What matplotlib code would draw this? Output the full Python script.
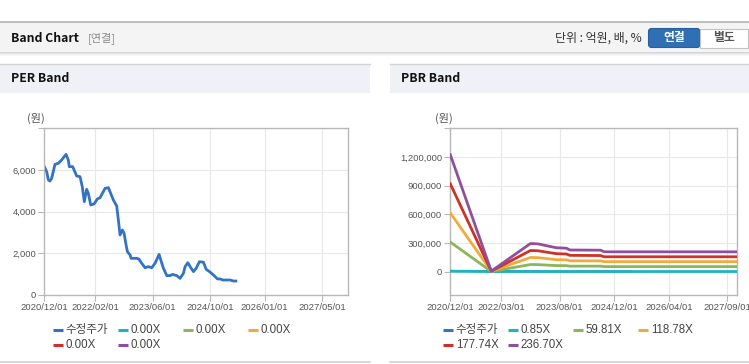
import pandas as pd
import matplotlib
matplotlib.use('Agg')
import matplotlib.pyplot as plt
import matplotlib.dates as mdates
from matplotlib.patches import Rectangle, FancyBboxPatch
from matplotlib.ticker import FuncFormatter

plt.rcParams['font.family'] = ['Liberation Sans', 'Noto Sans CJK KR', 'DejaVu Sans']

# adjusted share price (수정주가)
price_dates = ['2020-12-01', '2020-12-21', '2021-01-04', '2021-01-18', '2021-02-01', '2021-03-01',
               '2021-03-29', '2021-04-26', '2021-06-02', '2021-06-21', '2021-06-30', '2021-07-28',
               '2021-08-31', '2021-09-28', '2021-10-17', '2021-11-03', '2021-11-23', '2021-12-07',
               '2021-12-27', '2022-01-24', '2022-02-21', '2022-03-16', '2022-04-27', '2022-05-25',
               '2022-06-13', '2022-07-06', '2022-08-03', '2022-08-17', '2022-08-31', '2022-09-20',
               '2022-10-04', '2022-10-21', '2022-11-01', '2022-11-24', '2022-12-02', '2023-01-19',
               '2023-02-05', '2023-03-02', '2023-03-30', '2023-04-27', '2023-05-25', '2023-06-22',
               '2023-07-26', '2023-08-18', '2023-09-01', '2023-09-29', '2023-10-27', '2023-11-16',
               '2023-12-22', '2024-01-19', '2024-02-16', '2024-03-01', '2024-03-24', '2024-04-18',
               '2024-05-11', '2024-06-02', '2024-06-30', '2024-08-03', '2024-08-26', '2024-09-23',
               '2024-10-26', '2024-11-29', '2024-12-22', '2025-01-13', '2025-03-16', '2025-04-13',
               '2025-05-03']
price = [6160, 5920, 5520, 5470, 5600, 6270, 6320, 6480, 6750, 6480, 6160, 6160, 5710, 5680,
         5200, 4480, 5070, 4880, 4320, 4370, 4610, 4670, 5120, 5150, 4880, 4560, 4270, 3600,
         2880, 3120, 2960, 2400, 2080, 1920, 1760, 1760, 1730, 1520, 1310, 1360, 1310, 1520,
         1950, 1520, 1280, 930, 930, 990, 930, 800, 1040, 1360, 1550, 1310, 1120, 1280, 1600,
         1570, 1230, 1120, 960, 770, 770, 720, 720, 670, 670]

# PER band: all multiples are 0.00X (no line drawn)
per_labels = ['0.00X', '0.00X', '0.00X', '0.00X', '0.00X']

# PBR band lines
pbr_dates = ['2020-12-01', '2021-12-01', '2022-11-15', '2023-01-20', '2023-07-01',
             '2023-10-01', '2023-11-01', '2024-08-01', '2024-09-01', '2027-11-30']
pbr_labels = ['0.85X', '59.81X', '118.78X', '177.74X', '236.70X']
pbr_085 = [4400, 20, 1060, 1040, 900, 880, 810, 800, 740, 740]
pbr_5981 = [309000, 1300, 74000, 73000, 63000, 62000, 57000, 57000, 52000, 52000]
pbr_11878 = [614000, 2500, 148000, 146000, 125000, 123000, 113000, 112000, 104000, 104000]
pbr_17774 = [919000, 3800, 221000, 218000, 188000, 184000, 170000, 168000, 155000, 155000]
pbr_23670 = [1224000, 5000, 294000, 290000, 250000, 245000, 226000, 224000, 207000, 207000]

price_color = '#3273c6'
band_colors = ['#1fb3c0', '#8cb65a', '#f2aa3c', '#cf3129', '#904f9c']

per_ticks = ['2020-12-01', '2022-02-01', '2023-06-01', '2024-10-01', '2026-01-01', '2027-05-01']
pbr_ticks = ['2020-12-01', '2022-03-01', '2023-08-01', '2024-12-01', '2026-04-01', '2027-09-01']

W, H = 749, 364
fig = plt.figure(figsize=(W / 100, H / 100), dpi=100)

# background / page decoration in pixel coordinates
bg = fig.add_axes([0, 0, 1, 1], zorder=0)
bg.set_xlim(0, W)
bg.set_ylim(H, 0)
bg.axis('off')

bg.add_patch(Rectangle((0, 22), W, 30, facecolor='#f4f4f4', edgecolor='none'))
bg.plot([0, W], [22, 22], color='#b4b4b4', lw=1.2)
for i, a in enumerate([0.35, 0.22, 0.12, 0.05]):
    bg.add_patch(Rectangle((0, 52 + i), W, 1, facecolor='#888888', alpha=a, edgecolor='none'))

bg.text(11, 38, 'Band Chart', fontsize=8.8, fontweight='bold', color='#111111', va='center',
        family=['Noto Sans CJK KR'])
bg.text(88, 38, '[연결]', fontsize=8, color='#8a8a8a', va='center', family=['Noto Sans CJK KR'])
bg.text(642, 38, '단위 : 억원, 배, %', fontsize=8.6, color='#333333', va='center', ha='right',
        family=['Noto Sans CJK KR', 'DejaVu Sans'])
bg.add_patch(FancyBboxPatch((648.5, 28.5), 51.5, 19, boxstyle='round,pad=0,rounding_size=3',
                            facecolor='#2f6fb3', edgecolor='#285f9c', lw=0.8))
bg.add_patch(Rectangle((700, 28.5), 48, 19, facecolor='white', edgecolor='#c2c2c2', lw=0.8))
bg.text(674, 38, '연결', fontsize=8.5, fontweight='bold', color='white', ha='center', va='center',
        family=['Noto Sans CJK KR'])
bg.text(724, 38, '별도', fontsize=8.5, fontweight='bold', color='#555555', ha='center', va='center',
        family=['Noto Sans CJK KR'])

for x0, x1, title in [(0, 370, 'PER Band'), (390, W, 'PBR Band')]:
    bg.add_patch(Rectangle((x0, 64), x1 - x0, 29, facecolor='#eef1f6', edgecolor='none'))
    bg.plot([x0, x1], [64, 64], color='#d2d2d2', lw=1)
    bg.plot([x0, x1], [362, 362], color='#cfcfcf', lw=1.2)
    bg.text(x0 + 11, 79, title, fontsize=8.8, fontweight='bold', color='#111111', va='center',
            family=['Noto Sans CJK KR'])

bg.text(27, 118, '(원)', fontsize=8, color='#555555', va='center', family=['Noto Sans CJK KR'])
bg.text(435, 118, '(원)', fontsize=8, color='#555555', va='center', family=['Noto Sans CJK KR'])


def style_axis(ax, ticks):
    ax.set_facecolor('white')
    ax.set_xlim(pd.Timestamp('2020-12-01'), pd.Timestamp('2027-12-01'))
    ax.set_xticks(pd.to_datetime(ticks))
    ax.xaxis.set_major_formatter(mdates.DateFormatter('%Y/%m/%d'))
    ax.yaxis.set_major_formatter(FuncFormatter(lambda v, p: f'{int(v):,}'))
    ax.grid(True, color='#e8e8e8', lw=0.8)
    ax.set_axisbelow(True)
    for s in ax.spines.values():
        s.set_color('#b8b8b8')
        s.set_linewidth(1.0)
    ax.tick_params(length=4, width=0.8, color='#b8b8b8', labelsize=6.8, labelcolor='#555555', pad=2)


def pixel_axes(x0, y0, x1, y1):
    return fig.add_axes([x0 / W, (H - y1) / H, (x1 - x0) / W, (y1 - y0) / H], zorder=1)


def draw_legend(x_start, labels, colors):
    for i, (lab, col) in enumerate(zip(labels, colors)):
        x = x_start + (i % 4) * 65
        y = 330 + (i // 4) * 14.5
        bg.plot([x, x + 10], [y, y], color=col, lw=2.2, solid_capstyle='butt')
        bg.text(x + 13, y, lab, fontsize=8.3, color='#444444', va='center',
                family=['Liberation Sans', 'Noto Sans CJK KR'])


# PER band
ax1 = pixel_axes(44.3, 128.3, 347.7, 295)
style_axis(ax1, per_ticks)
ax1.plot(pd.to_datetime(price_dates), price, color=price_color, lw=2.0)
for lab, col in zip(per_labels, band_colors):
    ax1.plot([], [], color=col, label=lab)
ax1.set_ylim(0, 8000)
ax1.set_yticks([0, 2000, 4000, 6000, 8000])
ax1.set_yticklabels(['0', '2,000', '4,000', '6,000', ''])
draw_legend(52.7, ['수정주가'] + per_labels, [price_color] + band_colors)

# PBR band (price sits under the 0.85X line)
ax2 = pixel_axes(450.3, 128.3, 737.3, 295)
style_axis(ax2, pbr_ticks)
ax2.plot(pd.to_datetime(price_dates), price, color=price_color, lw=1.5, zorder=2)
for vals, col in zip([pbr_085, pbr_5981, pbr_11878, pbr_17774, pbr_23670], band_colors):
    ax2.plot(pd.to_datetime(pbr_dates), vals, color=col, lw=2.0, zorder=3)
ax2.set_ylim(-245000, 1500000)
ax2.set_yticks([0, 300000, 600000, 900000, 1200000, 1500000])
ax2.set_yticklabels(['0', '300,000', '600,000', '900,000', '1,200,000', ''])
draw_legend(442.7, ['수정주가'] + pbr_labels, [price_color] + band_colors)

fig.savefig('out.png', dpi=100)
